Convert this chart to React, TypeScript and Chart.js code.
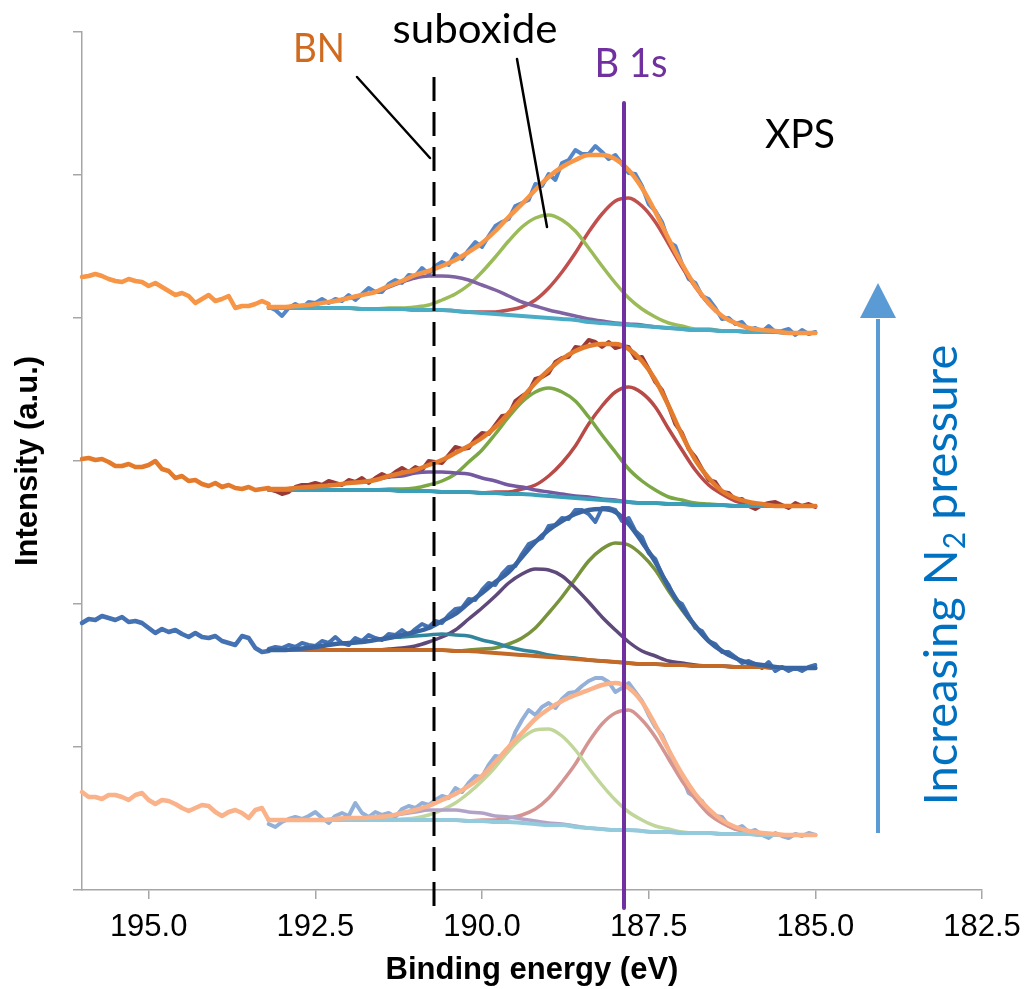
import React, { useEffect, useRef } from 'react';
import { Chart, registerables } from 'chart.js';

Chart.register(...registerables);

// ---------- energy grids (eV) ----------
const eLeft = [196.0, 195.9, 195.8, 195.7, 195.6, 195.5, 195.4, 195.3, 195.2, 195.1, 195.0, 194.9, 194.8, 194.7, 194.6, 194.5, 194.4, 194.3, 194.2, 194.1, 194.0, 193.9, 193.8, 193.7, 193.6, 193.5, 193.4, 193.3, 193.2];
const eFit = [193.2, 193.0, 192.8, 192.6, 192.4, 192.2, 192.0, 191.8, 191.6, 191.4, 191.2, 191.0, 190.8, 190.6, 190.4, 190.2, 190.0, 189.8, 189.6, 189.4, 189.2, 189.0, 188.8, 188.6, 188.4, 188.2, 188.0, 187.8, 187.6, 187.4, 187.2, 187.0, 186.8, 186.6, 186.4, 186.2, 186.0, 185.8, 185.6, 185.4, 185.2, 185.0];
const eRaw = [193.2, 193.1, 193.0, 192.9, 192.8, 192.7, 192.6, 192.5, 192.4, 192.3,
  192.2, 192.1, 192.0, 191.9, 191.8, 191.7, 191.6, 191.5, 191.4, 191.3,
  191.2, 191.1, 191.0, 190.9, 190.8, 190.7, 190.6, 190.5, 190.4, 190.3,
  190.2, 190.1, 190.0, 189.9, 189.8, 189.7, 189.6, 189.5, 189.4, 189.3,
  189.2, 189.1, 189.0, 188.9, 188.8, 188.7, 188.6, 188.5, 188.4, 188.3,
  188.2, 188.1, 188.0, 187.9, 187.8, 187.7, 187.6, 187.5, 187.4, 187.3,
  187.2, 187.1, 187.0, 186.9, 186.8, 186.7, 186.6, 186.5, 186.4, 186.3,
  186.2, 186.1, 186.0, 185.9, 185.8, 185.7, 185.6, 185.5, 185.4, 185.3,
  185.2, 185.1, 185.0];

const xTicks = [195.0, 192.5, 190.0, 187.5, 185.0, 182.5];
const yTicks = [0, 143, 286, 429, 572, 715, 858];

// ---------- spectrum 1 (top, highest N2 pressure) ----------
const s1Left = [613, 614, 616, 614, 611, 609, 608, 611, 609, 608, 604, 607, 603, 599, 595, 597, 594, 587, 591, 595, 589, 591, 594, 582, 584, 584, 586, 589, 586];
const s1Raw = [583, 580, 574, 582, 586, 582, 588, 587, 591, 587, 591, 589, 595, 590, 596, 602, 598, 598, 606, 610, 607, 615, 614, 622, 616, 624, 628, 625, 636, 631, 640, 648, 643, 654, 664, 668, 671, 684, 687, 690, 706, 704, 716, 710, 727, 730, 740, 736, 736, 744, 738, 731, 735, 726, 717, 716, 704, 686, 679, 668, 648, 644, 626, 611, 607, 594, 591, 582, 571, 572, 566, 568, 560, 562, 558, 564, 558, 559, 561, 555, 560, 556, 558];
const s1Env = [583, 583, 584, 585, 587, 589, 592, 595, 598, 604, 609, 615, 619, 624, 630, 638, 647, 659, 673, 686, 700, 713, 723, 730, 735, 735, 731, 720, 702, 678, 651, 626, 604, 587, 574, 567, 562, 560, 559, 557, 557, 557];
const s1Bg = [582, 582, 582, 582, 582, 582, 582, 581, 581, 581, 581, 580, 580, 580, 579, 578, 577, 576, 575, 574, 573, 572, 571, 570, 568, 567, 566, 565, 564, 563, 562, 561, 560, 560, 559, 559, 558, 558, 558, 557, 557, 557];
const s1Green = [582, 582, 582, 582, 582, 582, 582, 581, 581, 582, 582, 583, 585, 590, 596, 605, 618, 633, 649, 663, 672, 675, 670, 659, 642, 624, 607, 592, 581, 573, 567, 564, 561, 561, 559, 559, 558, 558, 558, 557, 557, 557];
const s1Red = [582, 582, 582, 582, 582, 582, 582, 581, 581, 581, 581, 580, 580, 580, 579, 578, 578, 578, 580, 583, 590, 602, 618, 637, 658, 676, 689, 692, 684, 668, 646, 623, 603, 586, 574, 567, 562, 560, 559, 557, 557, 557];
const s1Purple = [583, 583, 584, 585, 587, 589, 592, 595, 598, 603, 608, 612, 614, 614, 613, 610, 605, 600, 594, 588, 584, 580, 577, 574, 571, 569, 567, 566, 565, 563, 562, 561, 560, 560, 559, 559, 558, 558, 558, 557, 557, 557];

// ---------- spectrum 2 ----------
const s2Left = [431, 432, 430, 431, 428, 424, 424, 426, 423, 423, 425, 429, 421, 419, 412, 414, 409, 410, 406, 404, 407, 403, 405, 402, 401, 403, 400, 401, 402];
const s2Raw = [401, 399, 396, 398, 403, 405, 405, 407, 405, 409, 407, 405, 410, 408, 412, 407, 412, 416, 413, 418, 422, 418, 423, 420, 429, 428, 427, 435, 443, 441, 442, 451, 457, 456, 465, 474, 475, 489, 494, 498, 511, 513, 517, 528, 532, 533, 543, 542, 550, 548, 543, 548, 542, 544, 543, 532, 533, 521, 508, 500, 484, 466, 457, 441, 433, 421, 410, 408, 398, 397, 390, 391, 384, 381, 385, 387, 388, 385, 382, 387, 384, 386, 383];
const s2Env = [401, 401, 402, 403, 404, 405, 407, 408, 410, 414, 417, 420, 425, 430, 437, 444, 452, 463, 477, 492, 507, 520, 531, 539, 544, 546, 546, 541, 529, 510, 484, 455, 430, 412, 399, 392, 388, 386, 384, 384, 384, 384];
const s2Bg = [400, 400, 400, 400, 400, 400, 400, 400, 400, 400, 399, 399, 399, 398, 398, 398, 397, 397, 396, 396, 395, 394, 393, 392, 391, 390, 389, 388, 387, 387, 386, 386, 385, 385, 385, 384, 384, 384, 384, 384, 384, 384];
const s2Green = [400, 400, 400, 400, 400, 400, 400, 400, 400, 401, 401, 402, 405, 409, 416, 428, 440, 456, 473, 488, 498, 502, 498, 489, 473, 455, 438, 421, 409, 400, 393, 390, 387, 386, 385, 384, 384, 384, 384, 384, 384, 384];
const s2Red = [400, 400, 400, 400, 400, 400, 400, 400, 400, 400, 399, 399, 399, 398, 398, 398, 397, 398, 398, 401, 405, 414, 427, 444, 466, 484, 498, 503, 497, 483, 461, 440, 420, 405, 396, 389, 386, 385, 384, 384, 384, 384];
const s2Purple = [401, 401, 402, 403, 404, 405, 407, 408, 410, 413, 414, 417, 418, 418, 417, 416, 412, 409, 405, 403, 400, 398, 396, 394, 393, 391, 390, 388, 387, 387, 386, 386, 385, 385, 385, 384, 384, 384, 384, 384, 384, 384];

// ---------- spectrum 3 ----------
const s3Left = [267, 271, 270, 274, 272, 270, 273, 268, 269, 267, 262, 257, 261, 258, 260, 256, 253, 257, 253, 252, 254, 249, 247, 245, 254, 252, 242, 238, 239];
const s3Raw = [241, 243, 242, 245, 243, 247, 245, 244, 249, 247, 253, 247, 245, 252, 249, 255, 252, 250, 256, 255, 260, 255, 261, 266, 263, 269, 267, 275, 281, 282, 291, 290, 300, 307, 305, 316, 323, 324, 336, 346, 349, 352, 364, 365, 372, 371, 380, 380, 376, 368, 382, 382, 380, 369, 372, 359, 353, 337, 331, 315, 305, 290, 286, 274, 262, 259, 249, 246, 238, 238, 233, 227, 229, 226, 222, 228, 219, 223, 219, 222, 219, 223, 225];
const s3Env = [240, 240, 241, 242, 244, 246, 247, 248, 250, 252, 255, 258, 262, 269, 276, 287, 297, 308, 318, 333, 348, 360, 369, 376, 380, 381, 378, 366, 348, 328, 303, 282, 264, 249, 239, 232, 227, 225, 223, 222, 222, 222];
const s3Bg = [240, 240, 240, 240, 240, 240, 240, 240, 240, 240, 240, 240, 240, 240, 239, 239, 238, 237, 236, 235, 234, 233, 232, 231, 230, 229, 228, 227, 226, 226, 225, 225, 224, 224, 224, 223, 223, 223, 222, 222, 222, 222];
const s3Olive = [240, 240, 240, 240, 240, 240, 240, 240, 240, 240, 240, 240, 240, 240, 239, 240, 241, 242, 246, 252, 262, 277, 293, 311, 329, 341, 347, 345, 335, 320, 299, 280, 263, 249, 239, 232, 227, 225, 223, 222, 222, 222];
const s3Purple = [240, 240, 240, 240, 240, 240, 240, 240, 240, 241, 242, 244, 248, 253, 260, 271, 282, 294, 307, 316, 321, 320, 314, 302, 288, 273, 260, 248, 239, 234, 229, 227, 225, 224, 224, 223, 223, 223, 222, 222, 222, 222];
const s3Teal = [240, 240, 241, 242, 244, 246, 247, 248, 250, 252, 253, 254, 255, 256, 255, 254, 250, 247, 243, 240, 238, 235, 233, 232, 230, 229, 228, 227, 226, 226, 225, 225, 224, 224, 224, 223, 223, 223, 222, 222, 222, 222];

// ---------- spectrum 4 (bottom) ----------
const s4Left = [98, 93, 93, 91, 95, 95, 93, 90, 95, 97, 90, 86, 90, 89, 86, 82, 79, 82, 85, 84, 78, 74, 78, 80, 77, 72, 80, 82, 70];
const s4Raw = [66, 63, 68, 71, 73, 71, 74, 78, 72, 67, 74, 77, 74, 87, 77, 73, 78, 75, 77, 73, 81, 84, 82, 87, 85, 90, 94, 92, 102, 98, 107, 114, 113, 125, 134, 133, 140, 158, 170, 180, 175, 183, 187, 182, 191, 197, 198, 204, 209, 212, 212, 208, 198, 202, 207, 198, 189, 175, 163, 155, 140, 124, 114, 97, 93, 89, 77, 74, 73, 64, 61, 64, 58, 60, 55, 52, 57, 54, 52, 56, 54, 57, 55];
const s4Env = [70, 70, 70, 70, 70, 71, 72, 72, 73, 74, 77, 80, 84, 90, 96, 104, 114, 128, 143, 157, 171, 181, 189, 195, 200, 205, 207, 202, 188, 165, 140, 116, 96, 81, 70, 63, 59, 57, 56, 55, 55, 55];
const s4Bg = [70, 70, 70, 70, 70, 70, 70, 70, 70, 70, 70, 70, 70, 70, 70, 69, 69, 68, 68, 67, 66, 65, 65, 63, 62, 61, 60, 60, 59, 58, 58, 57, 57, 57, 56, 56, 56, 55, 55, 55, 55, 55];
const s4Green = [70, 70, 70, 70, 70, 70, 70, 70, 70, 70, 71, 72, 75, 80, 87, 97, 109, 123, 139, 152, 160, 161, 154, 140, 122, 105, 90, 78, 70, 64, 61, 58, 57, 57, 56, 56, 56, 55, 55, 55, 55, 55];
const s4Red = [70, 70, 70, 70, 70, 70, 70, 70, 70, 70, 70, 70, 70, 70, 70, 69, 70, 70, 72, 75, 81, 92, 108, 126, 148, 166, 177, 180, 170, 153, 131, 109, 91, 76, 67, 61, 58, 56, 55, 55, 55, 55];
const s4Purple = [70, 70, 70, 70, 70, 71, 71, 72, 73, 74, 76, 78, 80, 80, 80, 78, 77, 74, 73, 71, 69, 67, 66, 64, 62, 61, 60, 60, 59, 58, 58, 57, 57, 57, 56, 56, 56, 55, 55, 55, 55, 55];

// ---------- marker lines & annotations ----------
const bnLineE = [190.72, 190.72];
const bnLineH = [813, -23];
const b1sLineE = [187.87, 187.87];
const b1sLineH = [787, -18];
const bnLeaderE = [191.875, 190.78];
const bnLeaderH = [813, 732];
const subLeaderE = [189.475, 189.025];
const subLeaderH = [831, 663];

const textLabels = [
  { text: 'BN', e: 192.445, h: 828, color: '#CF6A1F', width: 52 },
  { text: 'suboxide', e: 190.105, h: 847, color: '#000000', width: 165 },
  { text: 'B 1s', e: 187.765, h: 813, color: '#7030A0', width: 73 },
  { text: 'XPS', e: 185.23, h: 742, color: '#000000', width: 70 },
];
const arrowE = 184.06;
const arrowFrom = 57;
const arrowBase = 572;
const arrowTip = 607;
const sideTextE = 182.875;
const sideTextH = 315;

const FONT = "'Liberation Sans', Arial, sans-serif";
const LABEL_FONT = "Lato, 'Noto Sans', sans-serif";

const pts = (xs: number[], ys: number[]) => xs.map((x, i) => ({ x, y: ys[i] }));

function line(xs: number[], ys: number[], color: string, width: number, smooth: boolean, dash?: number[]) {
  return {
    data: pts(xs, ys),
    borderColor: color,
    backgroundColor: color,
    borderWidth: width,
    pointRadius: 0,
    fill: false,
    tension: 0,
    cubicInterpolationMode: smooth ? 'monotone' : 'default',
    borderJoinStyle: 'round',
    borderCapStyle: dash ? 'butt' : 'round',
    borderDash: dash || [],
    clip: false,
  } as any;
}

const overlayPlugin = {
  id: 'overlay',
  afterDatasetsDraw(chart: any) {
    const { ctx } = chart;
    const xs = chart.scales.x;
    const ys = chart.scales.y;
    ctx.save();
    ctx.textAlign = 'center';
    ctx.textBaseline = 'alphabetic';
    for (const a of textLabels) {
      const px = xs.getPixelForValue(a.e);
      const py = ys.getPixelForValue(a.h);
      ctx.font = `40px ${LABEL_FONT}`;
      const w = ctx.measureText(a.text).width;
      ctx.save();
      ctx.translate(px, py);
      ctx.scale(a.width / w, 1);
      ctx.fillStyle = a.color;
      ctx.fillText(a.text, 0, 0);
      ctx.restore();
    }
    // arrow
    const ax = xs.getPixelForValue(arrowE);
    const y0 = ys.getPixelForValue(arrowFrom);
    const yb = ys.getPixelForValue(arrowBase);
    const yt = ys.getPixelForValue(arrowTip);
    ctx.strokeStyle = '#5B9BD5';
    ctx.fillStyle = '#5B9BD5';
    ctx.lineWidth = 4;
    ctx.beginPath();
    ctx.moveTo(ax, y0);
    ctx.lineTo(ax, yb + 1);
    ctx.stroke();
    ctx.beginPath();
    ctx.moveTo(ax, yt);
    ctx.lineTo(ax - 18, yb);
    ctx.lineTo(ax + 18, yb);
    ctx.closePath();
    ctx.fill();
    // rotated side text
    const bx = xs.getPixelForValue(sideTextE);
    const cy = ys.getPixelForValue(sideTextH);
    ctx.save();
    ctx.translate(bx, cy);
    ctx.rotate(-Math.PI / 2);
    ctx.fillStyle = '#0070C0';
    ctx.textAlign = 'left';
    const big = `47px ${LABEL_FONT}`;
    const small = `30px ${LABEL_FONT}`;
    ctx.font = big;
    const t1 = 'Increasing N';
    const t3 = ' pressure';
    const w1 = ctx.measureText(t1).width;
    const w3 = ctx.measureText(t3).width;
    ctx.font = small;
    const w2 = ctx.measureText('2').width;
    const total = w1 + w2 + w3;
    const x0 = -total / 2;
    ctx.font = big;
    ctx.fillText(t1, x0, 0);
    ctx.font = small;
    ctx.fillText('2', x0 + w1, 8);
    ctx.font = big;
    ctx.fillText(t3, x0 + w1 + w2, 0);
    ctx.restore();
    ctx.restore();
  },
};

export default function App() {
  const ref = useRef<HTMLCanvasElement | null>(null);
  useEffect(() => {
    document.body.style.margin = '0';
    const canvas = ref.current;
    if (!canvas) return;

    // bottom -> top drawing sequence
    const seq: any[] = [];
    // spectrum 1
    seq.push(line(eLeft, s1Left, '#F79646', 4.5, false));
    seq.push(line(eRaw, s1Raw, '#5387CA', 4, false));
    seq.push(line(eFit, s1Red, '#C0504D', 3.5, true));
    seq.push(line(eFit, s1Green, '#9BBB59', 3.5, true));
    seq.push(line(eFit, s1Purple, '#8064A2', 3.5, true));
    seq.push(line(eFit, s1Bg, '#4BACC6', 4, true));
    seq.push(line(eFit, s1Env, '#F79646', 4.5, true));
    // spectrum 2
    seq.push(line(eLeft, s2Left, '#E47B2C', 4.5, false));
    seq.push(line(eRaw, s2Raw, '#9A3A37', 4, false));
    seq.push(line(eFit, s2Red, '#B84A47', 3.5, true));
    seq.push(line(eFit, s2Green, '#7BA845', 3.5, true));
    seq.push(line(eFit, s2Purple, '#7458A0', 3.5, true));
    seq.push(line(eFit, s2Bg, '#3C9FBA', 4, true));
    seq.push(line(eFit, s2Env, '#E47B2C', 4.5, true));
    // spectrum 3
    seq.push(line(eLeft, s3Left, '#4472B2', 4.5, false));
    seq.push(line(eRaw, s3Raw, '#4472B2', 4, false));
    seq.push(line(eFit, s3Olive, '#77933C', 3.5, true));
    seq.push(line(eFit, s3Purple, '#5F497A', 3.5, true));
    seq.push(line(eFit, s3Teal, '#31859C', 3.5, true));
    seq.push(line(eFit, s3Bg, '#C46A28', 4, true));
    seq.push(line(eFit, s3Env, '#3A65A3', 4.5, true));
    // spectrum 4
    seq.push(line(eLeft, s4Left, '#F9B28A', 4.5, false));
    seq.push(line(eRaw, s4Raw, '#93B0D8', 4, false));
    seq.push(line(eFit, s4Red, '#D49592', 3.5, true));
    seq.push(line(eFit, s4Green, '#C0D69A', 3.5, true));
    seq.push(line(eFit, s4Purple, '#B3A2C7', 3.5, true));
    seq.push(line(eFit, s4Bg, '#93CBDC', 4, true));
    seq.push(line(eFit, s4Env, '#F9B28A', 4.5, true));
    // markers
    seq.push(line(bnLeaderE, bnLeaderH, '#000000', 2.5, false));
    seq.push(line(subLeaderE, subLeaderH, '#000000', 2.5, false));
    seq.push(line(bnLineE, bnLineH, '#000000', 3, false, [24, 11]));
    seq.push(line(b1sLineE, b1sLineH, '#7030A0', 4, false));

    const n = seq.length;
    seq.forEach((d, i) => { d.order = n - i; });

    const gridColor = '#A6A6A6';
    const chart = new Chart(canvas, {
      type: 'line',
      data: { datasets: seq },
      options: {
        responsive: false,
        maintainAspectRatio: false,
        animation: false,
        devicePixelRatio: 1,
        events: [],
        layout: { padding: { top: 32, right: 44, bottom: 0, left: 0 } },
        plugins: { legend: { display: false }, tooltip: { enabled: false } },
        scales: {
          x: {
            type: 'linear',
            min: 182.5,
            max: 196,
            reverse: true,
            afterBuildTicks: (s: any) => { s.ticks = xTicks.map((v) => ({ value: v })); },
            afterFit: (s: any) => { s.height = 99; s.paddingLeft = 0; s.paddingRight = 0; },
            ticks: {
              callback: (v: any) => Number(v).toFixed(1),
              font: { family: FONT, size: 31 },
              color: '#000000',
              padding: 10,
              maxRotation: 0,
              autoSkip: false,
            },
            grid: { display: true, drawOnChartArea: false, drawTicks: true, tickLength: 9, color: gridColor, lineWidth: 1.5 },
            border: { display: true, color: gridColor, width: 1.5 },
            title: {
              display: true,
              text: 'Binding energy (eV)',
              font: { family: FONT, size: 31, weight: 'bold' },
              color: '#000000',
              padding: { top: 0, bottom: 0 },
            },
          },
          y: {
            type: 'linear',
            min: 0,
            max: 858,
            afterBuildTicks: (s: any) => { s.ticks = yTicks.map((v) => ({ value: v })); },
            afterFit: (s: any) => { s.width = 82; },
            ticks: { display: false },
            grid: { display: true, drawOnChartArea: false, drawTicks: true, tickLength: 9, color: gridColor, lineWidth: 1.5 },
            border: { display: true, color: gridColor, width: 1.5 },
            title: {
              display: true,
              text: 'Intensity (a.u.)',
              font: { family: FONT, size: 31, weight: 'bold' },
              color: '#000000',
              padding: { top: 10, bottom: 0 },
            },
          },
        },
      } as any,
      plugins: [overlayPlugin],
    });
    return () => chart.destroy();
  }, []);

  return <canvas ref={ref} width={1026} height={989} style={{ display: 'block' }} />;
}
